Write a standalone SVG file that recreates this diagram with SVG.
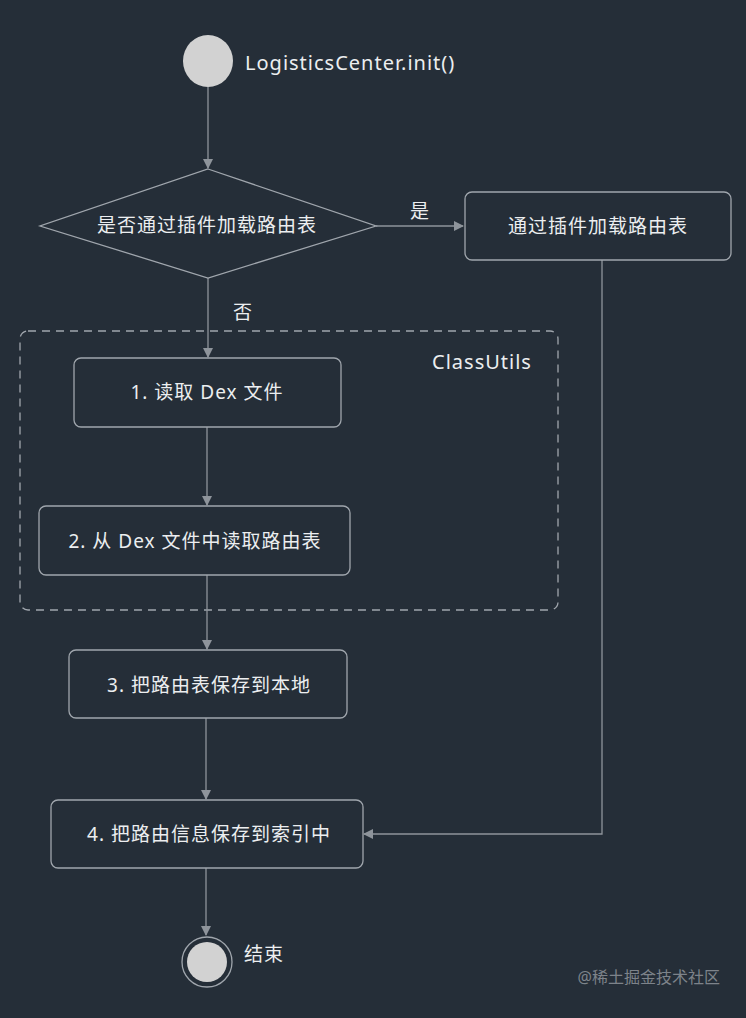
<svg xmlns="http://www.w3.org/2000/svg" width="746" height="1018" viewBox="0 0 746 1018">
<style>
.n{fill:none;stroke:#a0a6ad;stroke-width:1.3}
.t{fill:#eceef0;font-family:"Noto Sans","Noto Sans CJK SC",sans-serif;font-size:19px;letter-spacing:1px;text-anchor:middle;dominant-baseline:central}
.l{fill:none;stroke:#8e949b;stroke-width:1.3}
</style>
<defs><marker id="a" markerWidth="10" markerHeight="10" refX="9" refY="5" orient="auto" markerUnits="userSpaceOnUse"><path d="M0,0 L10,5 L0,10 z" fill="#8e949b"/></marker></defs>
<rect width="746" height="1018" fill="#252e38"/>
<g id="classutils"><rect x="20" y="331" width="538" height="279" rx="8" fill="none" stroke="#a0a6ad" stroke-width="1.3" stroke-dasharray="8,6"/><text class="t" x="482" y="361" style="font-size:20px">ClassUtils</text></g>
<g id="connectors">
<path class="l" d="M208,87 V168" marker-end="url(#a)"/>
<path class="l" d="M376,226 H463" marker-end="url(#a)"/>
<path class="l" d="M208,278 V357" marker-end="url(#a)"/>
<path class="l" d="M207,427 V505" marker-end="url(#a)"/>
<path class="l" d="M207,575 V649" marker-end="url(#a)"/>
<path class="l" d="M206,718 V799" marker-end="url(#a)"/>
<path class="l" d="M602,260 V834 H364" marker-end="url(#a)"/>
<path class="l" d="M206,868 V935" marker-end="url(#a)"/>
<text class="t" x="420" y="211">是</text>
<text class="t" x="243" y="312">否</text>
</g>
<g id="start"><ellipse cx="208" cy="61" rx="25" ry="26" fill="#d2d2d2"/><text class="t" x="245" y="62" style="text-anchor:start;font-size:20px">LogisticsCenter.init()</text></g>
<g id="decision"><path class="n" d="M208,169 L376,226 L208,278 L40,226 Z"/><text class="t" x="207" y="225">是否通过插件加载路由表</text></g>
<g id="plugin"><rect class="n" x="465" y="192" width="266" height="68" rx="7"/><text class="t" x="598" y="226">通过插件加载路由表</text></g>
<g id="s1"><rect class="n" x="74" y="358" width="267" height="69" rx="7"/><text class="t" x="207" y="392">1. 读取 Dex 文件</text></g>
<g id="s2"><rect class="n" x="39" y="506" width="311" height="69" rx="7"/><text class="t" x="195" y="541">2. 从 Dex 文件中读取路由表</text></g>
<g id="s3"><rect class="n" x="69" y="650" width="278" height="68" rx="7"/><text class="t" x="209" y="685">3. 把路由表保存到本地</text></g>
<g id="s4"><rect class="n" x="51" y="800" width="312" height="68" rx="7"/><text class="t" x="209" y="834">4. 把路由信息保存到索引中</text></g>
<g id="end"><circle cx="207" cy="962" r="25" fill="none" stroke="#a0a6ad" stroke-width="1.3"/><circle cx="207" cy="962" r="20" fill="#d2d2d2"/><text class="t" x="264" y="954">结束</text></g>
<text x="720" y="983" style="fill:#7d838a;font-family:'Noto Sans','Noto Sans CJK SC',sans-serif;font-size:16px;text-anchor:end">@稀土掘金技术社区</text>
</svg>
